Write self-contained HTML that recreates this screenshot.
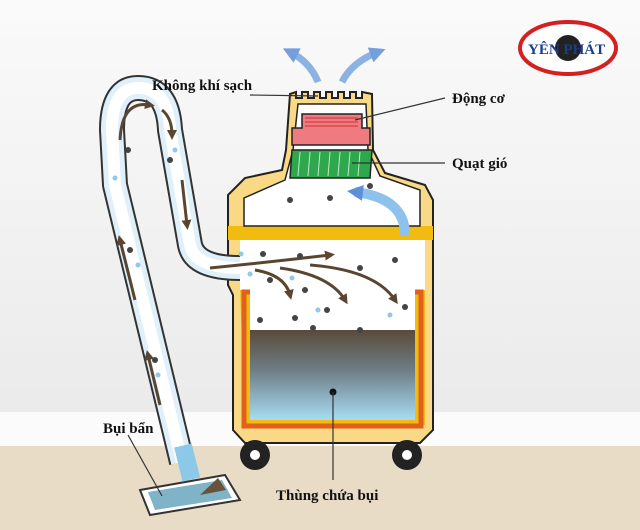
<!DOCTYPE html>
<html><head><style>
html,body{margin:0;padding:0;width:640px;height:530px;overflow:hidden;background:#f2f2f2}
text{font-family:"Liberation Serif",serif;font-weight:bold;fill:#111}
</style></head><body>
<svg width="640" height="530" viewBox="0 0 640 530">
<defs>
<linearGradient id="bg" x1="0" y1="0" x2="0" y2="1"><stop offset="0" stop-color="#fafafa"/><stop offset="1" stop-color="#e6e6e6"/></linearGradient>
<linearGradient id="liq" x1="0" y1="0" x2="0" y2="1"><stop offset="0" stop-color="#5a4a3a"/><stop offset="0.45" stop-color="#6e7e86"/><stop offset="1" stop-color="#a8dcf4"/></linearGradient>
<marker id="ah" markerUnits="userSpaceOnUse" markerWidth="10" markerHeight="10" refX="5" refY="5" orient="auto"><path d="M0,0 L10,5 L0,10Z" fill="#5a4630"/></marker>
<marker id="bh" markerUnits="userSpaceOnUse" markerWidth="16" markerHeight="16" refX="8" refY="8" orient="auto"><path d="M0,0 L16,8 L0,16Z" fill="#5f8fd8"/></marker>
</defs>
<rect width="640" height="530" fill="url(#bg)"/>
<rect x="0" y="412" width="640" height="34" fill="#fbfbfb"/>
<rect x="0" y="446" width="640" height="84" fill="#e8dcc6"/>
<!-- logo -->
<ellipse cx="568" cy="48" rx="48" ry="26" fill="#fff" stroke="#d42020" stroke-width="4"/>
<circle cx="568" cy="48" r="13" fill="#222"/>
<text x="528" y="54" font-size="15" style="fill:#1a3d8f">YÊN PHÁT</text>
<!-- air out arrows -->
<path d="M318,82 Q310,62 290,52" stroke="#7aa6e0" stroke-width="7" fill="none" marker-end="url(#bh)" opacity=".85"/>
<path d="M342,82 Q352,62 378,52" stroke="#7aa6e0" stroke-width="7" fill="none" marker-end="url(#bh)" opacity=".85"/>
<!-- body -->
<path d="M290,94 L296,92 L296,98 L302,98 L302,92 L308,92 L308,98 L314,98 L314,92 L320,92 L320,98 L326,98 L326,92 L332,92 L332,98 L338,98 L338,92 L344,92 L344,98 L350,98 L350,92 L356,92 L356,98 L362,98 L362,92 L372,94 L373,150 L385,173 L425,185 L433,200 L433,430 L420,443 L245,443 L233,430 L233,295 L228,285 L228,195 L245,178 L282,170 L286,150 Z" fill="#f9d985" stroke="#222" stroke-width="2"/>
<rect x="228" y="226" width="205" height="14" fill="#f2bb10"/>
<rect x="240" y="240" width="185" height="55" fill="#fff"/>
<path d="M240,290 L425,290 L425,425 L245,425 Z" fill="#f2bb10"/>
<path d="M298,104 L366,104 L368,150 L380,176 L420,190 L420,226 L244,226 L244,198 L285,180 L293,150 Z" fill="#fff" stroke="#222" stroke-width="1.5"/>
<rect x="244" y="292" width="177" height="134" fill="none" stroke="#e0601c" stroke-width="5"/>
<rect x="250" y="240" width="165" height="90" fill="#fff"/>
<rect x="250" y="330" width="165" height="90" fill="url(#liq)"/>
<!-- motor / fan -->
<path d="M302,114 L362,114 L362,128 L370,128 L370,145 L292,145 L292,128 L302,128 Z" fill="#ef7a80" stroke="#222" stroke-width="1.5"/>
<g stroke="#c33" stroke-width="1"><line x1="305" y1="118" x2="358" y2="118"/><line x1="305" y1="122" x2="358" y2="122"/><line x1="305" y1="126" x2="358" y2="126"/></g>
<path d="M292,150 L372,150 L370,178 L290,178 Z" fill="#2ea84c" stroke="#222" stroke-width="1.5"/>
<g stroke="#bfe8c8" stroke-width="1"><line x1="300" y1="152" x2="298" y2="176"/><line x1="310" y1="152" x2="308" y2="176"/><line x1="320" y1="152" x2="318" y2="176"/><line x1="330" y1="152" x2="328" y2="176"/><line x1="340" y1="152" x2="338" y2="176"/><line x1="350" y1="152" x2="348" y2="176"/><line x1="360" y1="152" x2="358" y2="176"/></g>
<path d="M405,235 Q405,198 355,192" stroke="#8ec2ec" stroke-width="10" fill="none" marker-end="url(#bh)"/>
<!-- wheels -->
<circle cx="255" cy="455" r="15" fill="#222"/><circle cx="255" cy="455" r="5" fill="#fff"/>
<circle cx="407" cy="455" r="15" fill="#222"/><circle cx="407" cy="455" r="5" fill="#fff"/>
<!-- hose -->
<path d="M182,462 L115,185 L112,130 Q112,88 138,88 Q168,88 170,130 L190,245 Q195,268 240,268" stroke="#333" stroke-width="26" fill="none" stroke-linejoin="round"/>
<path d="M182,462 L115,185 L112,130 Q112,88 138,88 Q168,88 170,130 L190,245 Q195,268 240,268" stroke="#dff0fa" stroke-width="22" fill="none"/>
<path d="M182,462 L115,185 L112,130 Q112,88 138,88 Q168,88 170,130 L190,245 Q195,268 240,268" stroke="#fff" stroke-width="12" fill="none"/>
<g stroke="#5a4630" stroke-width="3" fill="none" marker-end="url(#ah)">
<path d="M160,405 L148,355"/><path d="M135,300 L120,240"/><path d="M120,140 Q122,100 150,105"/><path d="M162,110 Q172,118 172,135"/><path d="M182,180 L187,225"/>
<path d="M210,268 Q270,262 330,255"/><path d="M255,270 Q285,275 290,295"/><path d="M280,268 Q330,275 345,300"/><path d="M310,265 Q375,270 395,300"/></g>
<!-- nozzle -->
<path d="M140,490 L225,475 L240,500 L150,515 Z" fill="#fff" stroke="#333" stroke-width="2"/>
<path d="M148,492 L222,480 L232,498 L155,510 Z" fill="#7fb4c8"/>
<rect x="178" y="445" width="18" height="35" fill="#8cc8e8" transform="rotate(-14 187 462)"/>
<path d="M200,495 L218,478 L226,490" fill="#6a523a"/>
<!-- dots -->
<g fill="#444"><circle cx="290" cy="200" r="3"/><circle cx="330" cy="198" r="3"/><circle cx="370" cy="186" r="3"/><circle cx="263" cy="254" r="3"/><circle cx="300" cy="256" r="3"/><circle cx="270" cy="280" r="3"/><circle cx="305" cy="290" r="3"/><circle cx="360" cy="268" r="3"/><circle cx="395" cy="260" r="3"/><circle cx="405" cy="307" r="3"/><circle cx="260" cy="320" r="3"/><circle cx="295" cy="318" r="3"/><circle cx="327" cy="310" r="3"/><circle cx="313" cy="328" r="3"/><circle cx="360" cy="330" r="3"/><circle cx="128" cy="150" r="3"/><circle cx="170" cy="160" r="3"/><circle cx="130" cy="250" r="3"/><circle cx="155" cy="360" r="3"/><circle cx="333" cy="392" r="3.5" fill="#111"/></g>
<g fill="#8ec8ec"><circle cx="241" cy="254" r="2.5"/><circle cx="250" cy="274" r="2.5"/><circle cx="292" cy="278" r="2.5"/><circle cx="318" cy="310" r="2.5"/><circle cx="390" cy="315" r="2.5"/><circle cx="175" cy="150" r="2.5"/><circle cx="115" cy="178" r="2.5"/><circle cx="138" cy="265" r="2.5"/><circle cx="158" cy="375" r="2.5"/></g>
<!-- leaders -->
<g stroke="#333" stroke-width="1.2"><line x1="250" y1="95" x2="318" y2="96"/><line x1="445" y1="98" x2="355" y2="120"/><line x1="445" y1="163" x2="352" y2="163"/><line x1="333" y1="392" x2="333" y2="480"/><line x1="128" y1="435" x2="162" y2="496"/></g>
<text x="152" y="90" font-size="15">Không khí sạch</text>
<text x="452" y="103" font-size="15">Động cơ</text>
<text x="452" y="168" font-size="15">Quạt gió</text>
<text x="103" y="433" font-size="15">Bụi bẩn</text>
<text x="276" y="500" font-size="15">Thùng chứa bụi</text>
</svg>
</body></html>
